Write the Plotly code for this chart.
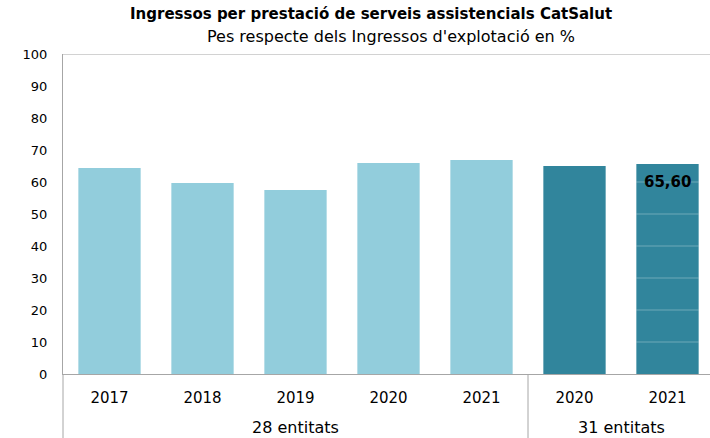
import plotly.graph_objects as go

groups = ["28 entitats"] * 5 + ["31 entitats"] * 2
years = ["2017", "2018", "2019", "2020", "2021", "2020", "2021"]
values = [64.4, 59.7, 57.5, 65.9, 66.9, 65.0, 65.6]
labels = ["", "", "", "", "", "", "65,60"]
colors = ["#92CDDC"] * 5 + ["#31859C"] * 2
y_ticks = list(range(0, 101, 10))

FONT = "DejaVu Sans, Verdana, sans-serif"
GRAY = "#A6A6A6"
BAR_W = 0.67
CAT_PX = 93  # pixel width of one category slot in the original

idx = list(range(len(years)))

fig = go.Figure(
    go.Bar(
        x=idx,
        y=values,
        marker=dict(color=colors, line=dict(width=0)),
        width=BAR_W,
        hoverinfo="skip",
    )
)

# plot-area geometry helpers (paper coordinates)
PL, PR, PT, PB = 63, 710, 54, 374
def px_x(p):
    return (p - PL) / (PR - PL)
def px_y(p):
    return (PB - p) / (PB - PT)

annotations = [
    dict(text="<b>Ingressos per prestació de serveis assistencials CatSalut</b>",
         xref="paper", yref="paper", x=px_x(371), y=px_y(14),
         xanchor="center", yanchor="middle", showarrow=False,
         font=dict(family=FONT, size=15, color="black")),
    dict(text="Pes respecte dels Ingressos d'explotació en %",
         xref="paper", yref="paper", x=px_x(391), y=px_y(36),
         xanchor="center", yanchor="middle", showarrow=False,
         font=dict(family=FONT, size=16, color="black")),
]

# group labels and dividers derived from the group list
shapes = [dict(type="line", xref="paper", yref="y", x0=0, x1=1, y0=100, y1=100,
               line=dict(color=GRAY, width=1))]
start = 0
for i in range(1, len(groups) + 1):
    if i == len(groups) or groups[i] != groups[start]:
        annotations.append(dict(
            text=groups[start], xref="x", yref="paper",
            x=(start + i - 1) / 2, y=px_y(427),
            xanchor="center", yanchor="middle", showarrow=False,
            font=dict(family=FONT, size=16, color="black")))
        if i < len(groups):
            shapes.append(dict(type="line", xref="x", yref="paper",
                               x0=i - 0.5, x1=i - 0.5, y0=0, y1=px_y(440),
                               line=dict(color=GRAY, width=1)))
        start = i
shapes.append(dict(type="line", xref="paper", yref="paper",
                   x0=0, x1=0, y0=0, y1=px_y(440),
                   line=dict(color=GRAY, width=1)))

# faint gridlines visible over the last bar in the original
last = len(values) - 1
for t in y_ticks:
    if 0 < t < values[last]:
        shapes.append(dict(type="line", xref="x", yref="y", layer="above",
                           x0=last - BAR_W / 2, x1=last + BAR_W / 2, y0=t, y1=t,
                           line=dict(color="rgba(255,255,255,0.3)", width=1)))

for i, lab in enumerate(labels):
    if lab:
        annotations.append(dict(
            text=f"<b>{lab}</b>", xref="x", yref="y", x=i, y=values[i],
            yshift=-18, xanchor="center", yanchor="middle", showarrow=False,
            font=dict(family=FONT, size=15, color="black")))

fig.update_layout(
    width=710,
    height=438,
    margin=dict(l=PL, r=710 - PR, t=PT, b=438 - PB),
    paper_bgcolor="white",
    plot_bgcolor="white",
    showlegend=False,
    font=dict(family=FONT, size=14, color="#000000"),
    xaxis=dict(
        range=[-0.5, -0.5 + (PR - PL) / CAT_PX],
        tickvals=idx, ticktext=years,
        showline=True, linecolor=GRAY, linewidth=1,
        ticks="", showgrid=False, zeroline=False,
        ticklabelstandoff=10,
        tickfont=dict(family=FONT, size=15),
    ),
    yaxis=dict(
        range=[0, 100], tickvals=y_ticks,
        showline=True, linecolor=GRAY, linewidth=1,
        showgrid=False, zeroline=False, ticks="",
        ticklabelstandoff=12,
        tickfont=dict(family=FONT, size=13),
    ),
    shapes=shapes,
    annotations=annotations,
)

fig.write_html("out.html", config={"displayModeBar": False},
               post_script="document.body.style.margin='0';")
